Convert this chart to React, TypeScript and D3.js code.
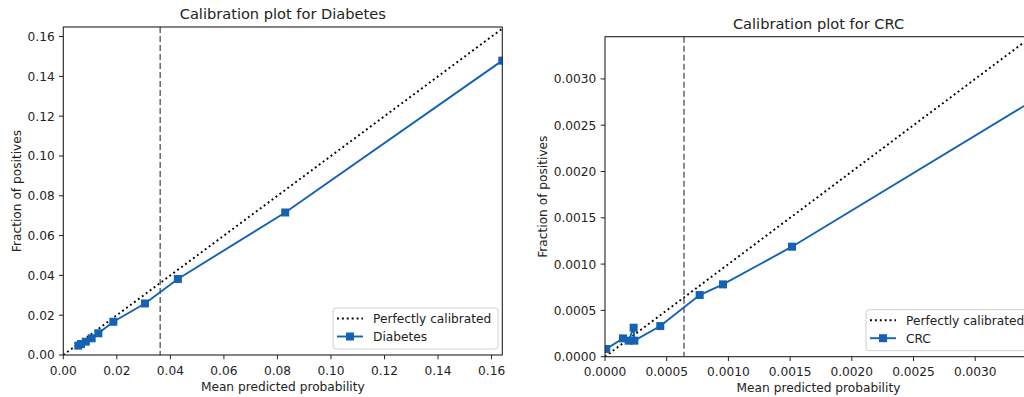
import React, { useRef, useEffect } from "react";
import * as d3 from "d3";

// Diabetes calibration curve (mean predicted probability vs fraction of positives)
const diabetesPred = [0.0056, 0.0066, 0.0084, 0.0106, 0.0131, 0.0187, 0.0305, 0.0428, 0.0829, 0.164];
const diabetesFrac = [0.0047, 0.0055, 0.0067, 0.0084, 0.0109, 0.0167, 0.0259, 0.0382, 0.0716, 0.1479];
const diabetesTicks = [0, 0.02, 0.04, 0.06, 0.08, 0.1, 0.12, 0.14, 0.16];
const diabetesThreshold = 0.0362;

// CRC calibration curve
const crcPred = [0.00001, 0.000146, 0.000192, 0.000232, 0.000238, 0.000448, 0.000767, 0.000956, 0.001515, 0.00346];
const crcFrac = [0.000083, 0.000198, 0.000173, 0.000313, 0.000173, 0.000331, 0.000666, 0.000781, 0.001188, 0.00276];
const crcTicks = [0, 0.0005, 0.001, 0.0015, 0.002, 0.0025, 0.003];
const crcThreshold = 0.00064;

const W = 1024, H = 397;
const FONT = "DejaVu Sans, sans-serif";
const BLUE = "#1562b4";
const TEXT = "#222";

function drawPanel(svg, cfg) {
  const { id, box, xMax, yMax, xs, ys, ticks, digits, threshold, title, label, legendX } = cfg;

  const x = d3.scaleLinear().domain([0, xMax]).range([box.left, box.right]);
  const y = d3.scaleLinear().domain([0, yMax]).range([box.bottom, box.top]);
  const fmt = d3.format(`.${digits}f`);

  const defs = svg.append("defs");
  defs.append("clipPath")
    .attr("id", `clip-${id}`)
    .append("rect")
      .attr("x", box.left)
      .attr("y", box.top)
      .attr("width", box.right - box.left)
      .attr("height", box.bottom - box.top);

  const plot = svg.append("g").attr("clip-path", `url(#clip-${id})`);

  // perfectly calibrated diagonal
  const diagMax = Math.max(xMax, yMax);
  plot.append("line")
    .attr("x1", x(0)).attr("y1", y(0))
    .attr("x2", x(diagMax)).attr("y2", y(diagMax))
    .attr("stroke", "#000")
    .attr("stroke-width", 1.9)
    .attr("stroke-dasharray", "1.9,3");

  // threshold
  plot.append("line")
    .attr("x1", x(threshold)).attr("x2", x(threshold))
    .attr("y1", box.top).attr("y2", box.bottom)
    .attr("stroke", "#6f6f6f")
    .attr("stroke-width", 1.6)
    .attr("stroke-dasharray", "6,3");

  const pts = xs.map((v, i) => ({ p: v, f: ys[i] }));
  const line = d3.line().x(d => x(d.p)).y(d => y(d.f));

  plot.append("path")
    .datum(pts)
    .attr("d", line)
    .attr("fill", "none")
    .attr("stroke", BLUE)
    .attr("stroke-width", 1.9);

  const ms = 8;
  plot.selectAll(".marker")
    .data(pts)
    .join("rect")
      .attr("class", "marker")
      .attr("x", d => x(d.p) - ms / 2)
      .attr("y", d => y(d.f) - ms / 2)
      .attr("width", ms)
      .attr("height", ms)
      .attr("fill", BLUE);

  // spines
  svg.append("rect")
    .attr("x", box.left).attr("y", box.top)
    .attr("width", box.right - box.left)
    .attr("height", box.bottom - box.top)
    .attr("fill", "none")
    .attr("stroke", "#222")
    .attr("stroke-width", 1.1);

  // x ticks
  const xt = svg.append("g");
  ticks.forEach(t => {
    xt.append("line")
      .attr("x1", x(t)).attr("x2", x(t))
      .attr("y1", box.bottom).attr("y2", box.bottom + 4.3)
      .attr("stroke", "#222");
    xt.append("text")
      .attr("x", x(t))
      .attr("y", box.bottom + 19.5)
      .attr("text-anchor", "middle")
      .attr("font-size", "12.2px")
      .attr("font-family", FONT)
      .attr("fill", TEXT)
      .text(fmt(t));
  });

  // y ticks
  const yt = svg.append("g");
  ticks.forEach(t => {
    if (t > yMax) return;
    yt.append("line")
      .attr("x1", box.left - 4.3).attr("x2", box.left)
      .attr("y1", y(t)).attr("y2", y(t))
      .attr("stroke", "#222");
    yt.append("text")
      .attr("x", box.left - 8.6)
      .attr("y", y(t) + 4.4)
      .attr("text-anchor", "end")
      .attr("font-size", "12.2px")
      .attr("font-family", FONT)
      .attr("fill", TEXT)
      .text(fmt(t));
  });
  const yb = yt.node().getBBox();

  // title + axis labels
  svg.append("text")
    .attr("x", (box.left + box.right) / 2)
    .attr("y", box.top - 8)
    .attr("text-anchor", "middle")
    .attr("font-size", "14.6px")
    .attr("font-family", FONT)
    .attr("fill", TEXT)
    .text(title);

  svg.append("text")
    .attr("x", (box.left + box.right) / 2)
    .attr("y", box.bottom + 35.5)
    .attr("text-anchor", "middle")
    .attr("font-size", "12.2px")
    .attr("font-family", FONT)
    .attr("fill", TEXT)
    .text("Mean predicted probability");

  const yLabelX = yb.x - 7;
  svg.append("text")
    .attr("transform", `translate(${yLabelX},${(box.top + box.bottom) / 2}) rotate(-90)`)
    .attr("text-anchor", "middle")
    .attr("font-size", "12.2px")
    .attr("font-family", FONT)
    .attr("fill", TEXT)
    .text("Fraction of positives");

  // legend
  const lw = 165, lh = 41;
  const lx = legendX, ly = box.bottom - 6 - lh;
  const lg = svg.append("g");
  lg.append("rect")
    .attr("x", lx).attr("y", ly)
    .attr("width", lw).attr("height", lh)
    .attr("rx", 3)
    .attr("fill", "#fff")
    .attr("fill-opacity", 0.8)
    .attr("stroke", "#d0d0d0")
    .attr("stroke-width", 1);

  const r1 = ly + 10.5, r2 = ly + 28.5;
  lg.append("line")
    .attr("x1", lx + 4).attr("x2", lx + 30)
    .attr("y1", r1).attr("y2", r1)
    .attr("stroke", "#000")
    .attr("stroke-width", 1.9)
    .attr("stroke-dasharray", "1.9,3");
  lg.append("line")
    .attr("x1", lx + 4).attr("x2", lx + 30)
    .attr("y1", r2).attr("y2", r2)
    .attr("stroke", BLUE)
    .attr("stroke-width", 1.9);
  lg.append("rect")
    .attr("x", lx + 17 - ms / 2).attr("y", r2 - ms / 2)
    .attr("width", ms).attr("height", ms)
    .attr("fill", BLUE);

  [["Perfectly calibrated", r1], [label, r2]].forEach(([txt, ry]) => {
    lg.append("text")
      .attr("x", lx + 40)
      .attr("y", ry + 4.4)
      .attr("font-size", "12.2px")
      .attr("font-family", FONT)
      .attr("fill", TEXT)
      .text(txt);
  });
}

export default function App() {
  const svgRef = useRef(null);

  useEffect(() => {
    const svg = d3.select(svgRef.current);
    svg.selectAll("*").remove();

    svg.append("rect").attr("width", W).attr("height", H).attr("fill", "#fff");

    drawPanel(svg, {
      id: "diabetes",
      box: { left: 63.3, right: 502.3, top: 27, bottom: 355 },
      xMax: 0.164,
      yMax: 0.1648,
      xs: diabetesPred,
      ys: diabetesFrac,
      ticks: diabetesTicks,
      digits: 2,
      threshold: diabetesThreshold,
      title: "Calibration plot for Diabetes",
      label: "Diabetes",
      legendX: 333,
    });

    drawPanel(svg, {
      id: "crc",
      box: { left: 605, right: 1032, top: 36.7, bottom: 356.7 },
      xMax: 0.00346,
      yMax: 0.003456,
      xs: crcPred,
      ys: crcFrac,
      ticks: crcTicks,
      digits: 4,
      threshold: crcThreshold,
      title: "Calibration plot for CRC",
      label: "CRC",
      legendX: 866,
    });
  }, []);

  return (
    <svg
      ref={svgRef}
      width={W}
      height={H}
      style={{ position: "absolute", left: 0, top: 0, display: "block" }}
    />
  );
}
